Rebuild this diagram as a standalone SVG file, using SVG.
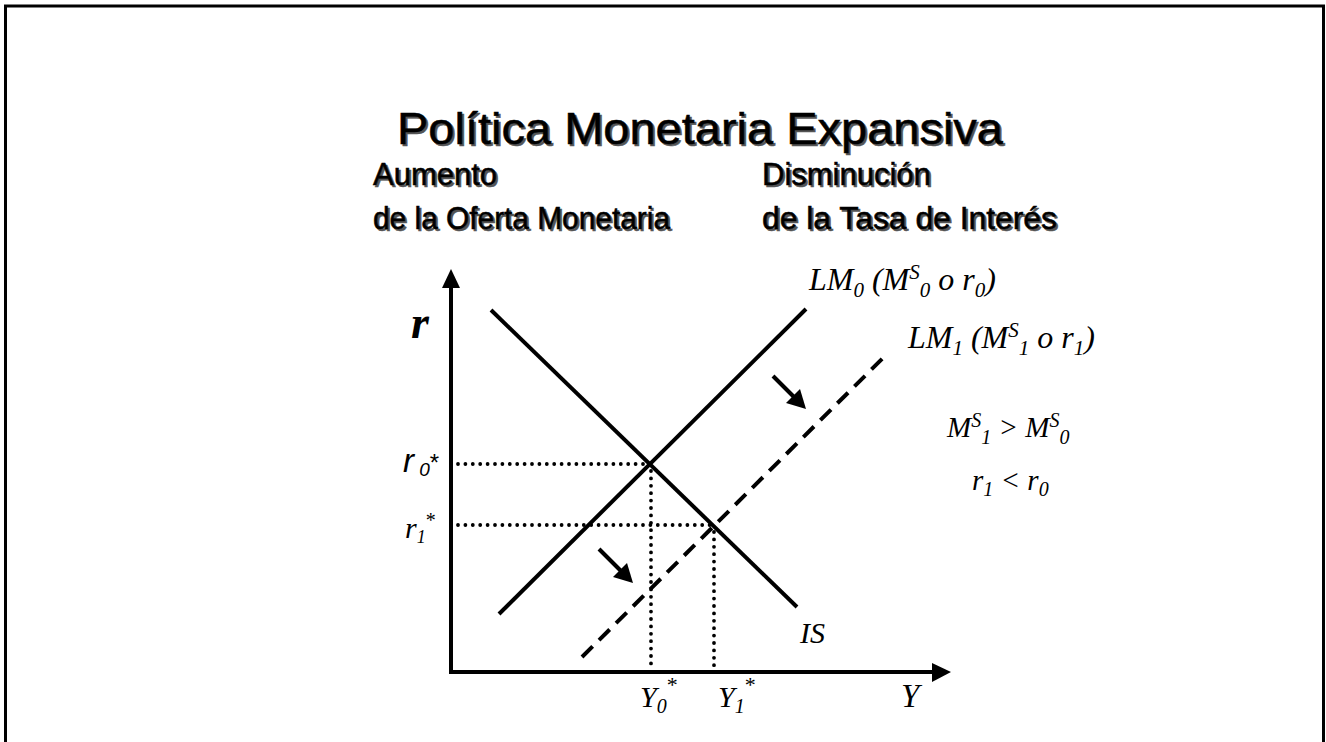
<svg xmlns="http://www.w3.org/2000/svg" width="1326" height="742" viewBox="0 0 1326 742">
<defs>
<style>
.h{font-family:"Liberation Sans",Arial,sans-serif;fill:#000;stroke:#000;stroke-width:0.5}
.sh{font-family:"Liberation Sans",Arial,sans-serif;fill:#555;stroke:#555;stroke-width:0.5}
.m{font-family:"Liberation Serif","Times New Roman",serif;font-style:italic;fill:#000}
.ln{stroke:#000;stroke-width:4;fill:none}
.dot{stroke:#000;stroke-width:3.8;fill:none;stroke-linecap:round;stroke-dasharray:0 7.4}
</style>
</defs>
<rect x="0" y="0" width="1326" height="742" fill="#fff"/>
<rect x="5.5" y="6" width="1318" height="800" fill="none" stroke="#000" stroke-width="3"/>

<g id="title">
<text class="sh" x="399" y="146" font-size="45" textLength="606" lengthAdjust="spacingAndGlyphs">Política Monetaria Expansiva</text>
<text class="h" x="397" y="144" font-size="45" textLength="606" lengthAdjust="spacingAndGlyphs">Política Monetaria Expansiva</text>
</g>
<g id="left-heading">
<text class="sh" x="375" y="187" font-size="31">Aumento</text>
<text class="h" x="373" y="185" font-size="31">Aumento</text>
<text class="sh" x="375" y="231" font-size="31" textLength="297" lengthAdjust="spacingAndGlyphs">de la Oferta Monetaria</text>
<text class="h" x="373" y="229" font-size="31" textLength="297" lengthAdjust="spacingAndGlyphs">de la Oferta Monetaria</text>
</g>
<g id="right-heading">
<text class="sh" x="764" y="187" font-size="31">Disminución</text>
<text class="h" x="762" y="185" font-size="31">Disminución</text>
<text class="sh" x="764" y="231" font-size="31" textLength="295" lengthAdjust="spacingAndGlyphs">de la Tasa de Interés</text>
<text class="h" x="762" y="229" font-size="31" textLength="295" lengthAdjust="spacingAndGlyphs">de la Tasa de Interés</text>
</g>

<g id="axes">
<line x1="451" y1="674" x2="451" y2="287" stroke="#000" stroke-width="4"/>
<polygon points="451,269 442,288 460,288" fill="#000"/>
<line x1="449" y1="672" x2="933" y2="672" stroke="#000" stroke-width="4"/>
<polygon points="951,672 932,663 932,682" fill="#000"/>
</g>

<g id="guides">
<line class="dot" x1="458" y1="464" x2="648" y2="464"/>
<line class="dot" x1="651" y1="471" x2="651" y2="669"/>
<line class="dot" x1="458" y1="525" x2="710" y2="525"/>
<line class="dot" x1="714" y1="532" x2="714" y2="669"/>
</g>

<g id="curves">
<line id="IS" class="ln" x1="491" y1="310" x2="797" y2="607"/>
<line id="LM0" class="ln" x1="499" y1="614" x2="806" y2="309"/>
<line id="LM1" class="ln" x1="582" y1="657" x2="886" y2="355" stroke-dasharray="15 9"/>
</g>

<g id="shift-arrows">
<line x1="773" y1="376" x2="795" y2="398" stroke="#000" stroke-width="4"/>
<polygon points="806,409 786,403 800,389" fill="#000"/>
<line x1="599" y1="549" x2="622" y2="572" stroke="#000" stroke-width="4"/>
<polygon points="633,583 613,577 627,563" fill="#000"/>
</g>

<g id="labels">
<text class="m" x="411" y="338" font-size="46" font-weight="bold">r</text>
<text class="m" x="809" y="290" font-size="32">LM<tspan font-size="21" dy="7">0</tspan><tspan dy="-7"> (M</tspan><tspan font-size="21" dy="-11">S</tspan><tspan font-size="21" dy="18">0</tspan><tspan dy="-7"> o r</tspan><tspan font-size="21" dy="7">0</tspan><tspan dy="-7">)</tspan></text>
<text class="m" x="908" y="348" font-size="32">LM<tspan font-size="21" dy="7">1</tspan><tspan dy="-7"> (M</tspan><tspan font-size="21" dy="-11">S</tspan><tspan font-size="21" dy="18">1</tspan><tspan dy="-7"> o r</tspan><tspan font-size="21" dy="7">1</tspan><tspan dy="-7">)</tspan></text>
<text class="m" x="947" y="437" font-size="29">M<tspan font-size="20" dy="-10">S</tspan><tspan font-size="20" dy="17">1</tspan><tspan dy="-7"> &gt; M</tspan><tspan font-size="20" dy="-10">S</tspan><tspan font-size="20" dy="17">0</tspan></text>
<text class="m" x="972" y="490" font-size="29">r<tspan font-size="20" dy="6">1</tspan><tspan dy="-6"> &lt; r</tspan><tspan font-size="20" dy="6">0</tspan></text>
<text class="m" x="800" y="643" font-size="30">IS</text>
<text class="m" x="901" y="707" font-size="33">Y</text>
<text class="m" x="640" y="707" font-size="30">Y<tspan font-size="20" dy="6">0</tspan><tspan font-style="normal" font-size="22" dy="-21">*</tspan></text>
<text class="m" x="718" y="707" font-size="30">Y<tspan font-size="20" dy="6">1</tspan><tspan font-style="normal" font-size="22" dy="-21">*</tspan></text>
<text x="403" y="472" font-size="33" font-family="Liberation Sans, Arial, sans-serif" font-style="italic">r<tspan font-size="19" dy="4"> 0</tspan><tspan font-style="normal" font-size="24" dy="-5">*</tspan></text>
<text class="m" x="405" y="538" font-size="30">r<tspan font-size="18" dy="5">1</tspan><tspan font-style="normal" font-size="20" dy="-16">*</tspan></text>
</g>
</svg>
